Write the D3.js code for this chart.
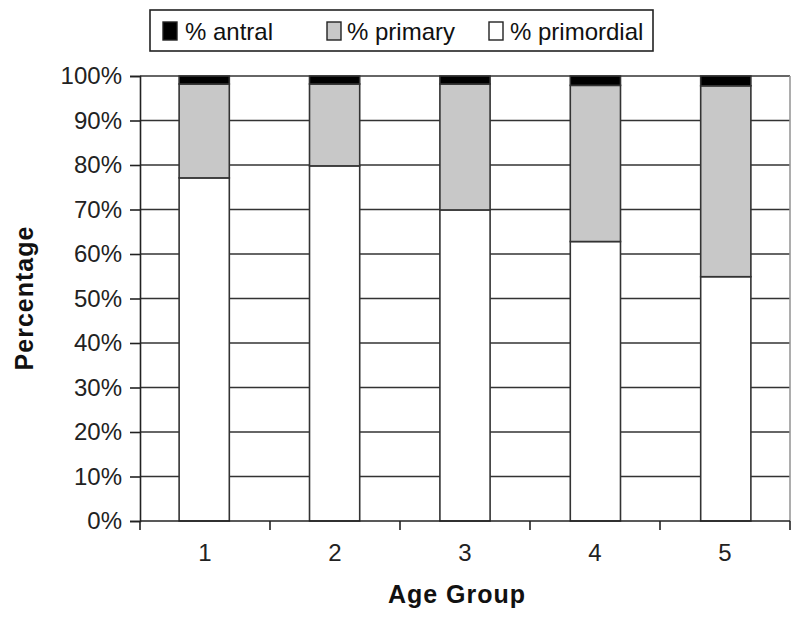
<!DOCTYPE html>
<html><head><meta charset="utf-8">
<script src="https://cdn.jsdelivr.net/npm/d3@7"></script>
<style>body{margin:0;background:#fff}svg{display:block}</style>
</head><body>
<svg id="chart" width="800" height="620"></svg>
<script>
const categories = ["1", "2", "3", "4", "5"];
const primordial = [77.1, 79.8, 69.9, 62.8, 54.9];
const primary = [21.1, 18.4, 28.3, 35.1, 42.9];
const antral = [1.8, 1.8, 1.8, 2.1, 2.2];
const yTicks = [0, 10, 20, 30, 40, 50, 60, 70, 80, 90, 100];
const seriesNames = ["% antral", "% primary", "% primordial"];
const seriesColors = ["#000000", "#c8c8c8", "#ffffff"];

const svg = d3.select("#chart");
const font = "'Liberation Sans', Arial, sans-serif";
const m = {left: 140, right: 790, top: 76, bottom: 521};

const x = d3.scaleBand().domain(categories).range([m.left, m.right]).paddingInner(0.615).paddingOuter(0.3);
const xb = d3.scaleBand().domain(categories).range([m.left, m.right]);
const y = d3.scaleLinear().domain([0, 100]).range([m.bottom, m.top]);

// gridlines
svg.append("g").selectAll("line").data(yTicks.filter(d => d > 0)).join("line")
  .attr("x1", m.left).attr("x2", m.right)
  .attr("y1", d => y(d)).attr("y2", d => y(d))
  .attr("stroke", "#333").attr("stroke-width", 1.6);
// right border
svg.append("line").attr("x1", m.right).attr("x2", m.right).attr("y1", m.top).attr("y2", m.bottom)
  .attr("stroke", "#999").attr("stroke-width", 1.6);

// stacked bars
const rows = categories.map((c, i) => ({cat: c, primordial: primordial[i], primary: primary[i], antral: antral[i]}));
const stack = d3.stack().keys(["primordial", "primary", "antral"])(rows);
const colorOf = {primordial: "#ffffff", primary: "#c8c8c8", antral: "#000000"};
svg.append("g").selectAll("g").data(stack).join("g")
  .attr("fill", d => colorOf[d.key])
  .selectAll("rect").data(d => d).join("rect")
  .attr("x", d => x(d.data.cat))
  .attr("width", x.bandwidth())
  .attr("y", d => y(d[1]))
  .attr("height", d => y(d[0]) - y(d[1]))
  .attr("stroke", "#333").attr("stroke-width", 1.6);

// y axis
const yAxis = svg.append("g").attr("transform", `translate(${m.left},0)`)
  .call(d3.axisLeft(y).tickValues(yTicks).tickFormat(d => d + "%").tickSize(10).tickPadding(8));
yAxis.select(".domain").attr("stroke", "#222").attr("stroke-width", 1.6);
yAxis.selectAll(".tick line").attr("stroke", "#222").attr("stroke-width", 1.6);
yAxis.selectAll("text").attr("font-family", font).attr("font-size", 24).attr("fill", "#222");

// x axis
const xAxisG = svg.append("g").attr("transform", `translate(0,${m.bottom})`);
xAxisG.append("line").attr("x1", m.left).attr("x2", m.right).attr("stroke", "#222").attr("stroke-width", 1.6);
const bounds = categories.map(c => xb(c)).concat([xb(categories[categories.length - 1]) + xb.bandwidth()]);
xAxisG.selectAll(".bt").data(bounds).join("line").attr("class", "bt")
  .attr("x1", d => d).attr("x2", d => d).attr("y1", 0).attr("y2", 9)
  .attr("stroke", "#222").attr("stroke-width", 1.6);
xAxisG.selectAll("text").data(categories).join("text")
  .attr("x", d => xb(d) + xb.bandwidth() / 2).attr("y", 40)
  .attr("text-anchor", "middle").attr("font-family", font).attr("font-size", 24).attr("fill", "#222")
  .text(d => d);

// axis titles
svg.append("text").attr("x", 457).attr("y", 603).attr("text-anchor", "middle")
  .attr("font-family", font).attr("font-weight", "bold").attr("font-size", 25).attr("letter-spacing", 1).attr("fill", "#111")
  .text("Age Group");
svg.append("text").attr("transform", "translate(33,298) rotate(-90)").attr("text-anchor", "middle")
  .attr("font-family", font).attr("font-weight", "bold").attr("font-size", 25).attr("letter-spacing", 1).attr("fill", "#111")
  .text("Percentage");

// legend
const lg = svg.append("g");
lg.append("rect").attr("x", 150).attr("y", 10).attr("width", 503).attr("height", 41)
  .attr("fill", "#fff").attr("stroke", "#222").attr("stroke-width", 1.6);
const legendX = [163, 327, 489];
const textX = [185, 347, 510];
seriesNames.forEach((n, i) => {
  lg.append("rect").attr("x", legendX[i]).attr("y", 22).attr("width", 14).attr("height", 18)
    .attr("fill", seriesColors[i]).attr("stroke", "#222").attr("stroke-width", 1.4);
  lg.append("text").attr("x", textX[i]).attr("y", 40)
    .attr("font-family", font).attr("font-size", 24).attr("fill", "#111").text(n);
});
</script>
</body></html>
